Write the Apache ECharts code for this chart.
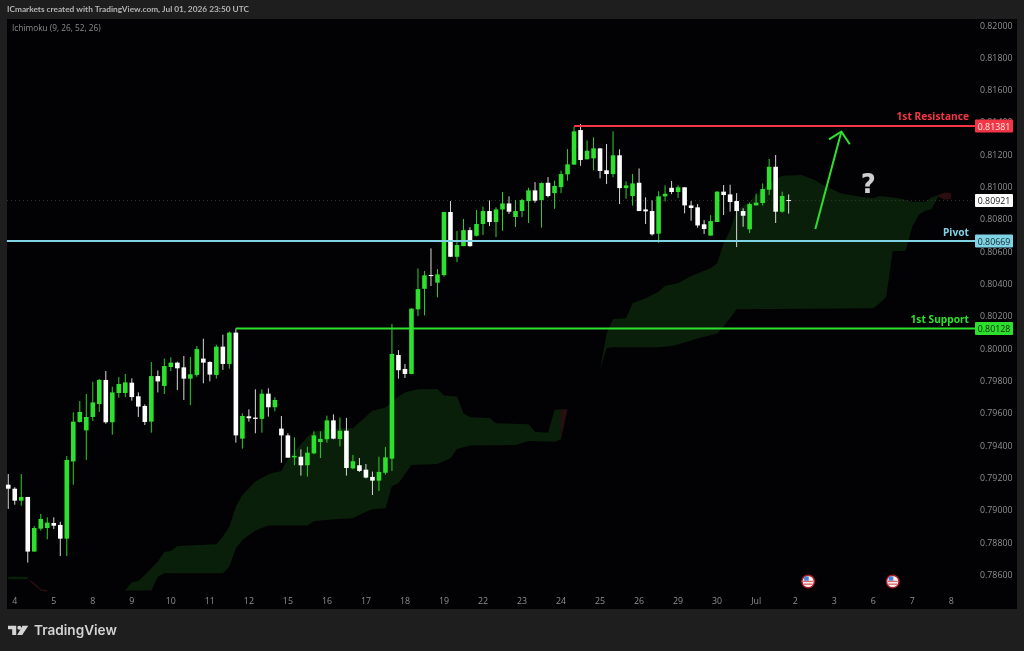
<!DOCTYPE html>
<html><head><meta charset="utf-8">
<style>html,body{margin:0;padding:0;background:#1e1e1e}#c{width:1024px;height:651px}</style>
<script src="https://cdn.jsdelivr.net/npm/echarts@6/dist/echarts.min.js"></script>
</head><body><div id="c"></div>
<script>
const tickDays=['4','5','8','9','10','11','12','15','16','17','18','19','22','23','24','25','26','29','30','Jul','2','3','6','7','8'];
const opens=[.79162,.79137,.79063,.79086,.78748,.7889,.78894,.78925,.78913,.78828,.79306,.7955,.79498,.79581,.79661,.7981,.79548,.79729,.79729,.79793,.79709,.79649,.79552,.79834,.79773,.7989,.79917,.79888,.79818,.79841,.79942,.79921,.79841,.80016,.79909,.80103,.79447,.79585,.79577,.79569,.79725,.79641,.79509,.79467,.79331,.79335,.79282,.79356,.79426,.79443,.7956,.79445,.79496,.79263,.79282,.79255,.7921,.79187,.79236,.79323,.79964,.79878,.79847,.80247,.80374,.80459,.80412,.80459,.80849,.80572,.80638,.80737,.80702,.80775,.80855,.80787,.80865,.80902,.80818,.80855,.80917,.80983,.80923,.8103,.80966,.81003,.81082,.81142,.81356,.81175,.81181,.81243,.81107,.81084,.812,.80997,.80948,.8103,.80865,.80855,.80715,.80946,.80999,.80973,.81002,.8089,.80878,.80773,.80703,.80787,.80975,.80958,.80917,.80855,.80742,.8089,.80905,.80987,.81129,.80851,.80923];
const closes=[.79137,.79063,.79086,.78748,.78894,.7895,.78927,.78908,.78828,.79315,.79552,.79612,.79581,.79671,.7981,.79548,.79733,.79785,.79795,.79704,.79645,.7955,.79834,.79801,.79896,.79917,.79882,.79818,.79845,.80001,.79917,.79843,.80016,.79909,.80103,.79467,.79587,.79573,.79569,.79725,.79641,.79686,.79467,.79329,.7934,.79282,.7936,.79467,.79445,.7956,.79447,.79496,.79265,.79307,.79247,.79206,.79187,.79241,.79331,.79971,.7987,.79847,.80251,.80372,.80457,.80455,.80463,.80849,.80572,.80645,.80737,.80638,.80775,.80855,.80787,.80865,.80902,.80851,.80855,.80923,.80983,.80919,.81028,.80948,.8101,.81084,.81144,.81348,.81171,.81228,.81243,.81103,.81084,.812,.80997,.81014,.81026,.80855,.80853,.80711,.80946,.80962,.80973,.81002,.8089,.80874,.80766,.80744,.80793,.80975,.80954,.80911,.80855,.80826,.80898,.80907,.80991,.81129,.80851,.80948,.80921];
const lows=[.79012,.79038,.79032,.7868,.78748,.78878,.78824,.78888,.78721,.78721,.79162,.79546,.79315,.79556,.79612,.79539,.79471,.797,.79704,.79682,.79581,.79531,.79484,.79733,.79723,.79865,.79748,.79686,.79655,.7983,.79789,.79801,.79818,.79872,.7988,.79422,.79385,.79552,.7948,.79484,.79583,.79616,.79298,.79329,.79282,.79218,.79212,.7935,.79327,.79422,.79443,.79399,.79218,.79257,.79241,.79201,.79098,.79123,.79224,.79247,.79818,.79822,.79845,.80205,.80209,.80391,.80321,.80449,.80572,.80539,.80638,.80634,.80698,.80707,.80762,.80694,.80733,.80838,.80756,.80818,.80781,.80907,.80752,.8094,.80869,.80966,.81043,.81142,.81135,.81175,.81107,.81057,.81022,.81065,.80898,.80931,.80888,.80855,.80775,.80703,.80659,.80915,.8096,.80936,.80841,.80795,.80752,.80713,.80703,.80787,.8083,.80851,.80632,.80758,.80719,.8089,.8089,.80954,.80781,.80845,.80839];
const highs=[.79228,.79146,.79228,.79086,.78906,.78981,.7896,.7896,.78933,.79339,.7961,.7968,.79723,.79799,.79816,.79865,.79768,.79828,.79847,.7982,.79733,.79659,.79921,.79869,.79942,.7995,.79923,.79958,.79952,.8002,.80065,.79925,.80028,.8009,.80109,.80129,.79604,.79628,.79752,.79752,.79758,.79703,.79587,.7948,.79455,.79381,.79397,.79492,.79492,.79589,.79597,.79577,.79575,.79346,.79327,.7929,.79243,.79335,.79395,.80156,.79995,.79909,.80253,.805,.80484,.80624,.80496,.80849,.80917,.80731,.80806,.80754,.80861,.80882,.80921,.80878,.80973,.80946,.80923,.80931,.80999,.81034,.81032,.81065,.81043,.81105,.81239,.81377,.81393,.81292,.81311,.81243,.8127,.81348,.81237,.81039,.81084,.81119,.8094,.80921,.80977,.81014,.81041,.81014,.81002,.80917,.80898,.80799,.8083,.80979,.81016,.81018,.80966,.80872,.80907,.80962,.81026,.81177,.81202,.80975,.80958];

const cloud1TopIdx=[18,19,20,21,23,24,25,26,32,33,34,35,36,37,38,40,42,43,46,47,50,53,56,58,60,61,63,66,67,69,70,71,74,75,80,81,83,84,85];
const cloud1Top=[.78507,.78558,.78566,.78603,.78686,.78745,.78752,.78783,.78793,.78841,.78903,.79026,.79098,.7914,.79181,.79226,.79247,.7932,.79459,.7949,.79511,.79511,.7962,.79639,.79707,.79732,.79752,.79754,.79713,.79707,.79604,.79579,.79575,.79542,.79536,.7949,.79484,.79624,.79628];
const cloud1BotIdx=[18,22,23,24,33,34,35,36,38,40,46,47,50,53,55,56,58,59,60,62,66,68,69,71,78,80,84,85];
const cloud1Bot=[.78507,.78507,.78593,.78614,.78614,.78655,.78769,.7882,.78878,.78909,.78909,.78936,.78948,.78954,.78995,.7901,.79016,.79154,.79171,.79284,.7929,.79325,.79383,.79404,.79408,.79433,.79428,.79443];
const cloud2TopIdx=[90,91,92,93,95,96,98,100,101,103,105,108,109,110,111,112,114,117,119,122,124,125,128,131,133,134,137,139,141,142,143];
const cloud2Top=[.79861,.79872,.80098,.80187,.80191,.80284,.80315,.80356,.80393,.80408,.80453,.80501,.80532,.80655,.80738,.8086,.80913,.81027,.81074,.81078,.81047,.81022,.80965,.80944,.80934,.80948,.80934,.80913,.80913,.8094,.80954];
const cloud2BotIdx=[90,91,92,93,100,102,104,106,109,110,112,133,134,135,136,137,138,139,140,141,142,143];
const cloud2Bot=[.79861,.79872,.80006,.80012,.80012,.8002,.80041,.80067,.80098,.8014,.80247,.80253,.80284,.80325,.80608,.80608,.8061,.80758,.80831,.80857,.80868,.80944];
const stubGreenIdx=[0,3]; const stubGreenTop=[.78593,.78593]; const stubGreenBot=[.78577,.78577];
const stubRedIdx=[3,4,5,6]; const stubRedTop=[.78577,.78555,.78515,.7851]; const stubRedBot=[.78577,.7854,.78505,.785];
const twist1Idx=[85,86]; const twist1Top=[.79628,.79628]; const twist1Bot=[.79443,.79628];
const twist2Idx=[143,144,145]; const twist2Top=[.80954,.8097,.80965]; const twist2Bot=[.80944,.80925,.8093];

const levelNames=['1st Resistance','Pivot','1st Support'];
const levelPrices=[.81381,.80669,.80128];
const levelStartIdx=[87,-0.2,35];
const levelColors=['#f23645','#7fd3e4','#2ee02e'];
const levelTagText=['#ffe9ea','#10282c','#0a2a0a'];
const lastPrice=.80921;
const arrowX=[124.1,128.1,126.2,129.4];
const arrowY=[.80744,.81346,.81299,.81268];
const questionAt=[132.25,.81];
const eventIdx=[123,136]; const eventPrice=.78563;

const GREEN='#2ee02e', WHITE='#ffffff', CLOUD='#0a1f0a', CLOUD_RED='#2a0e10';
const SLOTS=149;
const categories=Array.from({length:SLOTS},(_,i)=>((i-1)%6===0&&tickDays[(i-1)/6])||'');
const candleRows=opens.map((o,i)=>[i,o,closes[i],lows[i],highs[i]]);

function band(idxT,top,idxB,bot,color){
  return {type:'custom',xAxisIndex:1,yAxisIndex:0,silent:true,clip:true,z:1,data:[[0,.8]],
    renderItem:function(p,api){
      const pts=[];
      idxT.forEach((x,k)=>pts.push(api.coord([x,top[k]])));
      for(let k=idxB.length-1;k>=0;k--)pts.push(api.coord([idxB[k],bot[k]]));
      return {type:'polygon',shape:{points:pts},style:{fill:color}};
    }};
}
const option={
  animation:false,backgroundColor:'#1e1e1e',
  graphic:{elements:[
    {type:'rect',z:-5,shape:{x:7,y:19,width:1010,height:590},style:{fill:'#020204'},silent:true},
    {type:'text',z:5,style:{x:7,y:9.5,text:'ICmarkets created with TradingView.com, Jul 01, 2026 23:50 UTC',fill:'#b4b4b4',font:'700 8.3px "Lato"',verticalAlign:'middle'}},
    {type:'text',z:5,style:{x:12,y:28.5,text:'Ichimoku (9, 26, 52, 26)',fill:'#8c8c8c',font:'8.3px "Open Sans"',verticalAlign:'middle'}},
    {type:'text',z:5,style:{x:34,y:630.5,text:'TradingView',fill:'#d4d4d4',font:'600 13.6px "Inter"',verticalAlign:'middle'}},
    {type:'polygon',z:5,shape:{points:[[8,625.7],[16.2,625.7],[16.2,635],[12.2,635],[12.2,629.2],[8,629.2]]},style:{fill:'#d4d4d4'}},
    {type:'circle',z:5,shape:{cx:19.3,cy:627.7,r:2},style:{fill:'#d4d4d4'}},
    {type:'polygon',z:5,shape:{points:[[22.5,625.7],[28.3,625.7],[22.2,635],[17.2,635]]},style:{fill:'#d4d4d4'}}
  ]},
  grid:{left:5,top:26,width:969,height:581.83,show:false},
  xAxis:[
    {type:'category',data:categories,boundaryGap:true,
     axisLine:{show:false},axisTick:{show:false},splitLine:{show:false},
     axisLabel:{inside:true,margin:2,color:'#8f8f8f',fontSize:8.8,fontFamily:'"Open Sans"',hideOverlap:false,
       interval:(i,v)=>v!==''}},
    {type:'value',min:-0.5,max:SLOTS-0.5,show:false,splitLine:{show:false}}
  ],
  yAxis:[{type:'value',position:'right',min:.784,max:.82,interval:.002,scale:true,
    axisLine:{show:false},axisTick:{show:false},splitLine:{show:false},
    axisLabel:{margin:6,padding:[2,0,0,0],color:'#8f8f8f',fontSize:8.8,fontFamily:'"Open Sans"',align:'left',
      formatter:v=>v<.785?'':v.toFixed(5)}}],
  series:[
    band(cloud1TopIdx,cloud1Top,cloud1BotIdx,cloud1Bot,CLOUD),
    band(cloud2TopIdx,cloud2Top,cloud2BotIdx,cloud2Bot,CLOUD),
    band(stubGreenIdx,stubGreenTop,stubGreenIdx,stubGreenBot,CLOUD),
    band(stubRedIdx,stubRedTop,stubRedIdx,stubRedBot,CLOUD_RED),
    band(twist1Idx,twist1Top,twist1Idx,twist1Bot,CLOUD_RED),
    band(twist2Idx,twist2Top,twist2Idx,twist2Bot,CLOUD_RED),
    {type:'custom',name:'Price',xAxisIndex:1,yAxisIndex:0,silent:true,z:3,data:candleRows,
     encode:{x:0,y:[1,2,3,4]},
     renderItem:function(p,api){
       const i=api.value(0),o=api.value(1),c=api.value(2),l=api.value(3),h=api.value(4);
       const up=c>o, col=up?GREEN:WHITE;
       const x=api.coord([i,o])[0];
       const a=api.coord([i,Math.max(o,c)])[1], b=api.coord([i,Math.min(o,c)])[1];
       const hy=api.coord([i,h])[1], ly=api.coord([i,l])[1];
       return {type:'group',children:[
         {type:'line',shape:{x1:x,y1:hy,x2:x,y2:ly},style:{stroke:up?'#2bd02b':'#d8d8d8',lineWidth:1}},
         {type:'rect',shape:{x:x-2.3,y:a,width:4.6,height:Math.max(1,b-a)},style:{fill:col}}
       ]};
     }},
    {type:'custom',name:'Last',xAxisIndex:1,yAxisIndex:0,silent:true,z:2,clip:false,data:[[0,lastPrice]],
     renderItem:function(p,api){
       const y=api.coord([0,lastPrice])[1], r=p.coordSys.x+p.coordSys.width;
       return {type:'group',children:[
         {type:'line',shape:{x1:api.coord([-0.2,0])[0],y1:y,x2:r,y2:y},style:{stroke:'#3a3a3a',lineWidth:1,lineDash:[1,3]}},
         {type:'rect',shape:{x:r+1,y:y-6.5,width:38,height:13,r:1},style:{fill:'#ffffff'}},
         {type:'text',style:{x:r+20,y:y+1,text:lastPrice.toFixed(5),fill:'#222',font:'8.8px "Open Sans"',align:'center',verticalAlign:'middle'}}
       ]};
     }},
    {type:'custom',name:'Levels',xAxisIndex:1,yAxisIndex:0,silent:true,z:4,clip:false,
     data:levelPrices.map((v,k)=>[k,v]),
     renderItem:function(p,api){
       const k=api.value(0),v=api.value(1),r=p.coordSys.x+p.coordSys.width;
       const pt=api.coord([levelStartIdx[k],v]);
       return {type:'group',children:[
         {type:'line',shape:{x1:pt[0],y1:pt[1],x2:r+1,y2:pt[1]},style:{stroke:levelColors[k],lineWidth:2}},
         {type:'rect',shape:{x:r+1,y:pt[1]-6.5,width:38,height:13,r:1},style:{fill:levelColors[k]}},
         {type:'text',style:{x:r+20,y:pt[1]+1,text:v.toFixed(5),fill:levelTagText[k],font:'8.8px "Open Sans"',align:'center',verticalAlign:'middle'}},
         {type:'text',style:{x:r-5,y:pt[1]-8.5,text:levelNames[k],fill:levelColors[k],font:'700 10.2px "Noto Sans"',align:'right',verticalAlign:'middle'}}
       ]};
     }},
    {type:'custom',name:'Arrow',xAxisIndex:1,yAxisIndex:0,silent:true,z:4,data:[[0,.81]],
     renderItem:function(p,api){
       const c=arrowX.map((x,k)=>api.coord([x,arrowY[k]]));
       const s={stroke:GREEN,lineWidth:2,fill:null};
       const q=api.coord(questionAt);
       return {type:'group',children:[
         {type:'polyline',shape:{points:[c[0],c[1]]},style:s},
         {type:'polyline',shape:{points:[c[2],c[1],c[3]]},style:s},
         {type:'text',style:{x:q[0],y:q[1]-1,text:'?',fill:'#cfcfcf',font:'bold 26px "DejaVu Sans"',align:'center',verticalAlign:'middle'}}
       ]};
     }},
    {type:'custom',name:'Events',xAxisIndex:1,yAxisIndex:0,silent:true,z:4,data:eventIdx.map(i=>[i,eventPrice]),
     renderItem:function(p,api){
       const c=api.coord([api.value(0),api.value(1)]),x=c[0],y=c[1];
       const kids=[{type:'circle',shape:{cx:x,cy:y,r:7},style:{fill:'#a81c26'}},
                   {type:'circle',shape:{cx:x,cy:y,r:5.5},style:{fill:'#f4f4f4'}},
                   {type:'rect',shape:{x:x-5,y:y-.8,width:10,height:1.4},style:{fill:'#e46a6a'}},
                   {type:'rect',shape:{x:x-4.6,y:y+2,width:9.2,height:1.4},style:{fill:'#e46a6a'}},
                   {type:'rect',shape:{x:x-4,y:y-5,width:4.6,height:4.2},style:{fill:'#4d7fd8'}}];
       return {type:'group',children:kids};
     }}
  ]
};
const chart=echarts.init(document.getElementById('c'),null,{renderer:'canvas',width:1024,height:651});
chart.setOption(option);
</script></body></html>
